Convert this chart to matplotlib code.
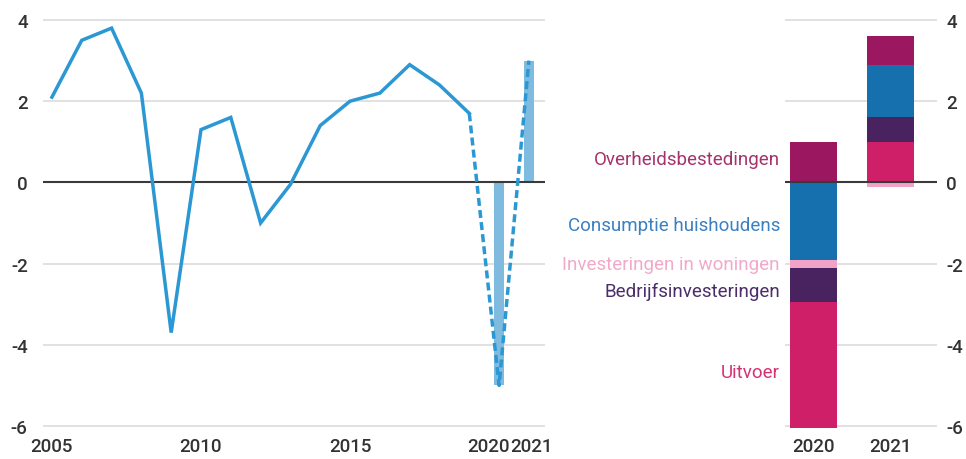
import matplotlib.pyplot as plt
from matplotlib.transforms import ScaledTranslation

plt.rcParams['font.family'] = ['Roboto', 'DejaVu Sans']

years = list(range(2005, 2022))
growth = [2.1, 3.5, 3.8, 2.2, -3.7, 1.3, 1.6, -1.0, -0.05, 1.4, 2.0, 2.2, 2.9, 2.4, 1.7, -5.0, 3.0]
forecast_years = [2020, 2021]
forecast_vals = [-5.0, 3.0]

# contributions, stacked bars
bar_labels = ['2020', '2021']
uitvoer = [-3.1, 1.0]
bedrijf = [-0.85, 0.6]
woningen = [-0.2, -0.12]
consumptie = [-1.9, 1.3]
overheid = [1.0, 0.7]

components = [
    ('Overheidsbestedingen', overheid, '#9b1760', '#a5336b', 0.57),
    ('Consumptie huishoudens', consumptie, '#1670ae', '#3a80c2', -1.06),
    ('Investeringen in woningen', woningen, '#f0a3c7', '#f2a9c9', -2.02),
    ('Bedrijfsinvesteringen', bedrijf, '#49235f', '#4b2d69', -2.68),
    ('Uitvoer', uitvoer, '#d01f69', '#d53173', -4.68),
]

fig = plt.figure(figsize=(9.66, 4.6), dpi=100)
W, H = 966, 460
ylo, yhi = -6.1, 4.1
px_per = 406 / 10.0
top_px = 21 - 0.1 * px_per
bot_px = 427 + 0.1 * px_per

grid_c = '#dcdcdc'
tick_c = '#333333'
fs = 13.5

# left panel
ax = fig.add_axes([43 / W, 1 - bot_px / H, (545 - 43) / W, (bot_px - top_px) / H])
ax.set_ylim(ylo, yhi)
ax.set_xlim(2004.7, 2021.54)
for v in [-6, -4, -2, 2, 4]:
    ax.axhline(v, color=grid_c, lw=1.2, zorder=0)
ax.bar(forecast_years, forecast_vals, width=0.36, color='#7fbbdf', zorder=1)
ax.axhline(0, color='#3a3a3a', lw=1.5, zorder=2)
ax.plot(years[:15], growth[:15], color='#2b98d4', lw=2.5, zorder=3, solid_joinstyle='miter')
ax.plot(years[14:], growth[14:], color='#2b98d4', lw=2.5, ls=(0, (2.3, 1.2)), zorder=3)
ax.set_yticks([-6, -4, -2, 0, 2, 4])
ax.set_yticklabels(['-6', '-4', '-2', '0', '2', '4'])
ax.set_xticks([2005, 2010, 2015, 2020, 2021])
ax.set_xticklabels(['2005', '2010', '2015', '2020', '2021'])
ax.tick_params(axis='y', length=0, pad=11, labelsize=fs, labelcolor=tick_c)
ax.tick_params(axis='x', length=0, pad=5, labelsize=fs, labelcolor=tick_c)
xl = ax.get_xticklabels()
xl[3].set_transform(xl[3].get_transform() + ScaledTranslation(-0.11, 0, fig.dpi_scale_trans))
xl[4].set_transform(xl[4].get_transform() + ScaledTranslation(0.03, 0, fig.dpi_scale_trans))
for s in ax.spines.values():
    s.set_visible(False)

# right panel
ax2 = fig.add_axes([785 / W, 1 - bot_px / H, (937 - 785) / W, (bot_px - top_px) / H])
ax2.set_ylim(ylo, yhi)
ax2.set_xlim(-0.364, 1.61)
for v in [-6, -4, -2, 2, 4]:
    ax2.axhline(v, color=grid_c, lw=1.2, zorder=0)
xs = [0, 1]
comp = {c[0]: c for c in components}
pos_order = ['Uitvoer', 'Bedrijfsinvesteringen', 'Investeringen in woningen',
             'Consumptie huishoudens', 'Overheidsbestedingen']
neg_order = ['Overheidsbestedingen', 'Consumptie huishoudens', 'Investeringen in woningen',
             'Bedrijfsinvesteringen', 'Uitvoer']
for i in range(len(xs)):
    base = 0.0
    for name in pos_order:
        _, vals, col, _, _ = comp[name]
        if vals[i] > 0:
            ax2.bar(xs[i], vals[i], bottom=base, width=0.61, color=col, zorder=1)
            base += vals[i]
    base = 0.0
    for name in neg_order:
        _, vals, col, _, _ = comp[name]
        if vals[i] < 0:
            ax2.bar(xs[i], vals[i], bottom=base, width=0.61, color=col, zorder=1)
            base += vals[i]
ax2.axhline(0, color='#3a3a3a', lw=1.5, zorder=2)
ax2.set_xticks(xs)
ax2.set_xticklabels(bar_labels)
ax2.yaxis.tick_right()
ax2.set_yticks([-6, -4, -2, 0, 2, 4])
ax2.set_yticklabels(['-6', '-4', '-2', '0', '2', '4'])
ax2.tick_params(axis='y', length=0, pad=6.5, labelsize=fs, labelcolor=tick_c)
ax2.tick_params(axis='x', length=0, pad=5, labelsize=fs, labelcolor=tick_c)
for s in ax2.spines.values():
    s.set_visible(False)

for lab in ax.get_xticklabels() + ax.get_yticklabels() + ax2.get_xticklabels() + ax2.get_yticklabels():
    lab.set_fontweight('medium')

for name, vals, col, tcol, ypos in components:
    ax2.text(-0.43, ypos, name, color=tcol, fontsize=fs, ha='right', va='center')

fig.savefig('out.png', dpi=100)
